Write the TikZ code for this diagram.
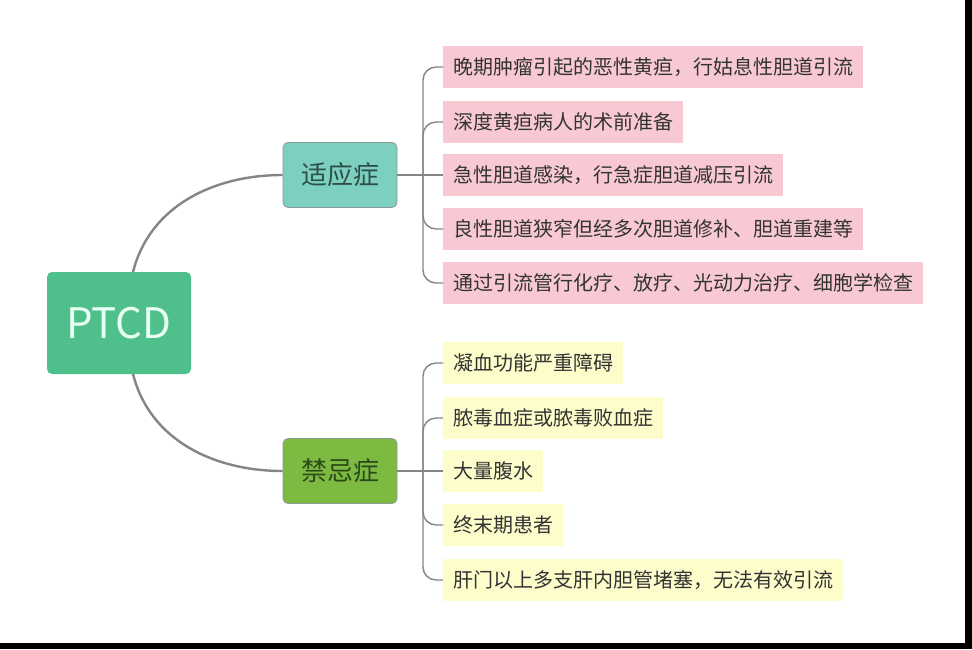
\documentclass[tikz,border=0pt]{standalone}
\usepackage{fontspec}
\newfontfamily\cjk{Noto Sans CJK SC}
\definecolor{rootfill}{HTML}{4FBF8C}
\definecolor{roottext}{HTML}{E8FFF4}
\definecolor{tealfill}{HTML}{7DCFC0}
\definecolor{tealtext}{HTML}{2C4F4A}
\definecolor{greenfill}{HTML}{7DBA42}
\definecolor{greentext}{HTML}{2B4A1A}
\definecolor{pinkfill}{HTML}{F8C9D3}
\definecolor{yelfill}{HTML}{FDFCCB}
\definecolor{itemtext}{HTML}{333333}
\definecolor{linegray}{HTML}{858585}
\definecolor{bordergray}{HTML}{8A9A96}
\tikzset{
  rootbox/.style={fill=rootfill, rounded corners=5pt, minimum width=144pt, minimum height=102pt,
    text=roottext, font=\cjk\fontsize{42}{46}\selectfont, inner sep=0pt},
  branchbox/.style={rounded corners=5pt, draw=bordergray, line width=0.8pt, minimum width=114pt,
    minimum height=65pt, font=\cjk\fontsize{26}{30}\selectfont, inner sep=0pt},
  itembox/.style={anchor=west, minimum height=42pt, inner xsep=10pt, inner ysep=0pt,
    text=itemtext, font=\cjk\fontsize{20}{24}\selectfont},
  pinkitem/.style={itembox, fill=pinkfill},
  yelitem/.style={itembox, fill=yelfill},
  mainline/.style={draw=linegray, line width=2.4pt},
  braceline/.style={draw=linegray, line width=1.4pt, rounded corners=13pt}
}
\begin{document}
\begin{tikzpicture}[x=1pt,y=-1pt]
\useasboundingbox (0,0) rectangle (972,649);
\fill[white] (0,0) rectangle (972,649);
\fill[black] (965,0) rectangle (972,649);
\fill[black] (0,643) rectangle (972,649);

\node[rootbox] (root) at (119,323) {PTCD};
\node[branchbox, fill=tealfill, text=tealtext] (ind) at (340,175) {适应症};
\node[branchbox, fill=greenfill, text=greentext] (contra) at (340,471) {禁忌症};

\coordinate (rtop) at (133,272);
\coordinate (rbot) at (133,374);
\draw[mainline] (rtop) .. controls (150,205) and (215,175) .. (ind.west);
\draw[mainline] (rbot) .. controls (150,441) and (215,471) .. (contra.west);

\node[pinkitem] (p1) at (443,67) {晚期肿瘤引起的恶性黄疸，行姑息性胆道引流};
\node[pinkitem] (p2) at (443,122) {深度黄疸病人的术前准备};
\node[pinkitem] (p3) at (443,175) {急性胆道感染，行急症胆道减压引流};
\node[pinkitem] (p4) at (443,229) {良性胆道狭窄但经多次胆道修补、胆道重建等};
\node[pinkitem] (p5) at (443,283) {通过引流管行化疗、放疗、光动力治疗、细胞学检查};

\node[yelitem] (y1) at (443,363) {凝血功能严重障碍};
\node[yelitem] (y2) at (443,418) {脓毒血症或脓毒败血症};
\node[yelitem] (y3) at (443,471) {大量腹水};
\node[yelitem] (y4) at (443,525) {终末期患者};
\node[yelitem] (y5) at (443,580) {肝门以上多支肝内胆管堵塞，无法有效引流};

\coordinate (j1) at (423,175);
\coordinate (j2) at (423,471);
\draw[braceline] (ind.east) -- (j1);
\draw[braceline] (contra.east) -- (j2);
\foreach \n in {p1,p2,p4,p5} \draw[braceline] (j1) |- (\n.west);
\draw[braceline] (j1) -- (p3.west);
\foreach \n in {y1,y2,y4,y5} \draw[braceline] (j2) |- (\n.west);
\draw[braceline] (j2) -- (y3.west);
\end{tikzpicture}
\end{document}
